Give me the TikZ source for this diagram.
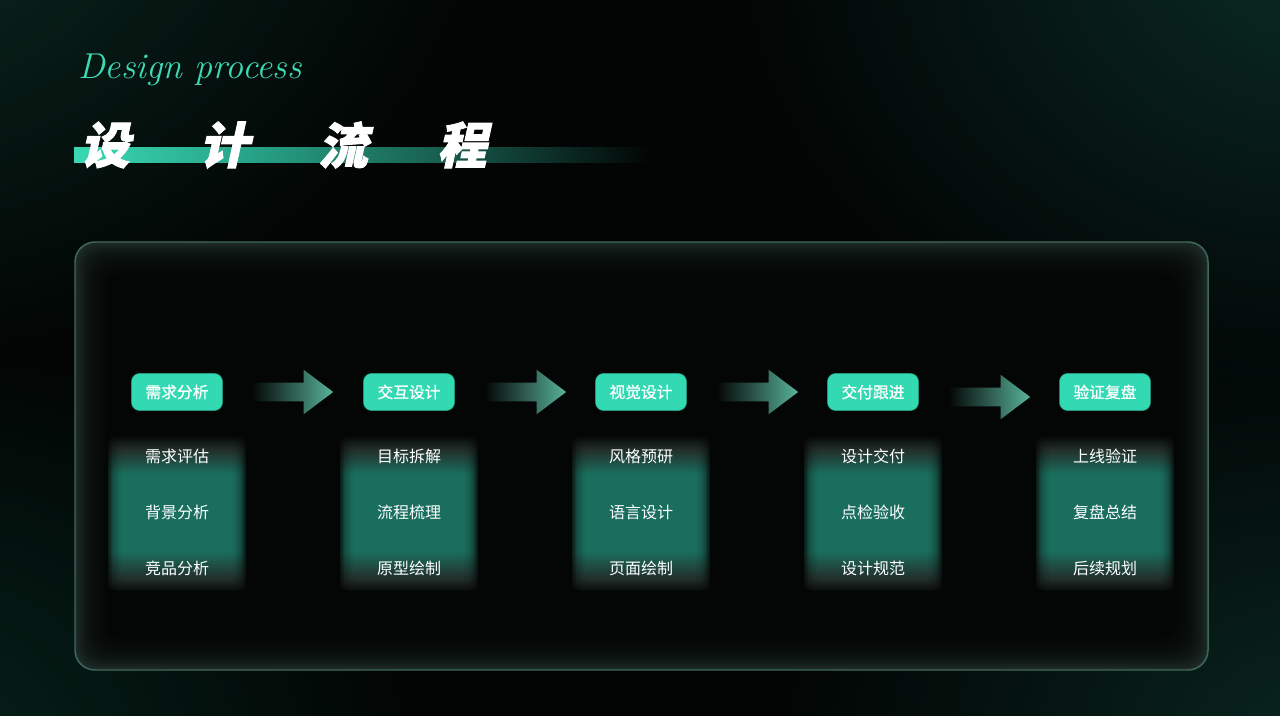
\documentclass[tikz,border=0pt]{standalone}
\usepackage{fontspec}
\newfontfamily\cjk{Noto Sans CJK SC}
\newfontfamily\cjkm[FakeBold=0.9]{Noto Sans CJK SC}
\newfontfamily\cjkt[FakeSlant=0.22,FakeBold=2]{Noto Sans CJK SC}
\usetikzlibrary{shapes.arrows,fadings}
\definecolor{bgdark}{HTML}{020504}
\definecolor{glowa}{HTML}{0C2E25}
\definecolor{glowb}{HTML}{0B2C26}
\definecolor{glowc}{HTML}{06241C}
\definecolor{glowd}{HTML}{0A2721}
\definecolor{pillc}{HTML}{33D9B3}
\definecolor{scriptc}{HTML}{3ED9B5}
\definecolor{panelb}{HTML}{40675D}
\definecolor{panelf}{HTML}{1E2B27}
\definecolor{paneli}{HTML}{040605}
\definecolor{bxd}{HTML}{0A0F0E}
\definecolor{bxg}{HTML}{27332F}
\definecolor{bxt}{HTML}{1E7866}
\definecolor{sa}{HTML}{3AD8B2}
\definecolor{sb}{HTML}{27A487}
\definecolor{sc}{HTML}{1A6656}
\definecolor{arrl}{HTML}{060908}
\definecolor{arrr}{HTML}{58B39A}
\pgfdeclareverticalshading{boxsh}{100bp}{color(0bp)=(bxd); color(25bp)=(bxd); color(29bp)=(bxg); color(38bp)=(bxt); color(63bp)=(bxt); color(71bp)=(bxg); color(75bp)=(bxd); color(100bp)=(bxd)}
\pgfdeclarehorizontalshading{stripesh}{100bp}{color(0bp)=(sa); color(25bp)=(sa); color(40bp)=(sb); color(55bp)=(sc); color(75bp)=(bgdark); color(100bp)=(bgdark)}
\tikzfading[name=radfade, inner color=transparent!0, outer color=transparent!100]
\tikzset{
  pill/.style={rectangle, rounded corners=6pt, fill=pillc, draw=pillc!70!black, line width=0.4pt,
    minimum width=68.25pt, minimum height=27.75pt, inner sep=0pt, text=white,
    font=\cjkm\fontsize{11.8pt}{12pt}\selectfont},
  item/.style={text=white, inner sep=0pt, font=\cjk\fontsize{12pt}{14pt}\selectfont},
  flowarrow/.style={single arrow, single arrow head extend=9.75pt, single arrow tip angle=74,
    minimum height=60pt, inner xsep=0pt, inner ysep=6.75pt, text height=0pt, text depth=0pt,
    left color=arrl, right color=arrr, draw=none},
  titlechar/.style={text=white, inner sep=0pt, font=\cjkt\bfseries\fontsize{37pt}{40pt}\selectfont},
}
\begin{document}
\begin{tikzpicture}[x=0.75pt,y=-0.75pt]
\useasboundingbox (0,0) rectangle (1280,716);
% background
\fill[bgdark] (0,0) rectangle (1280,716);
\begin{scope}
\clip (0,0) rectangle (1280,716);
\fill[glowa, path fading=radfade] (-150,-150) ellipse (650 and 520);
\fill[glowb, path fading=radfade] (1330,-60) ellipse (600 and 480);
\fill[glowc, path fading=radfade] (-100,760) ellipse (520 and 420);
\fill[glowd, path fading=radfade] (1330,760) ellipse (560 and 440);
\end{scope}
% title stripe
\shade[shading=stripesh] (74,148) rectangle (650,163);
\node[titlechar] (t1) at (105,145) {设};
\node[titlechar] (t2) at (224,145) {计};
\node[titlechar] (t3) at (343,145) {流};
\node[titlechar] (t4) at (462,145) {程};
\node[text=scriptc, inner sep=0pt, anchor=west, font=\itshape\fontsize{27pt}{28pt}\selectfont] (script) at (78,70) {Design process};
% panel
\fill[panelf, rounded corners=15pt] (75,242) rectangle (1208,670);
\foreach \k in {1,...,24} {
  \fill[paneli, fill opacity=0.13, rounded corners=15pt] (75+\k*2,242+\k*2) rectangle (1208-\k*2,670-\k*2);
}
\draw[panelb, line width=1.1pt, rounded corners=15pt] (75,242) rectangle (1208,670);
% blurred boxes
\foreach \cx in {177,409,641,873,1105} {
  \foreach \i in {0,...,11} {
    \shade[shading=boxsh, fill opacity=0.2, rounded corners=4pt] (\cx-69+\i*1.4,437) rectangle (\cx+69-\i*1.4,591);
  }
}
% arrows
\node[flowarrow] (a1) at (287,392) {};
\node[flowarrow] (a2) at (520,392) {};
\node[flowarrow] (a3) at (752,392) {};
\node[flowarrow] (a4) at (984,397) {};
% pills
\node[pill] (p1) at (177,392) {需求分析};
\node[pill] (p2) at (409,392) {交互设计};
\node[pill] (p3) at (641,392) {视觉设计};
\node[pill] (p4) at (873,392) {交付跟进};
\node[pill] (p5) at (1105,392) {验证复盘};
% items
\node[item] (i11) at (177,456) {需求评估};
\node[item] (i12) at (177,512) {背景分析};
\node[item] (i13) at (177,568) {竞品分析};
\node[item] (i21) at (409,456) {目标拆解};
\node[item] (i22) at (409,512) {流程梳理};
\node[item] (i23) at (409,568) {原型绘制};
\node[item] (i31) at (641,456) {风格预研};
\node[item] (i32) at (641,512) {语言设计};
\node[item] (i33) at (641,568) {页面绘制};
\node[item] (i41) at (873,456) {设计交付};
\node[item] (i42) at (873,512) {点检验收};
\node[item] (i43) at (873,568) {设计规范};
\node[item] (i51) at (1105,456) {上线验证};
\node[item] (i52) at (1105,512) {复盘总结};
\node[item] (i53) at (1105,568) {后续规划};
\end{tikzpicture}
\end{document}
